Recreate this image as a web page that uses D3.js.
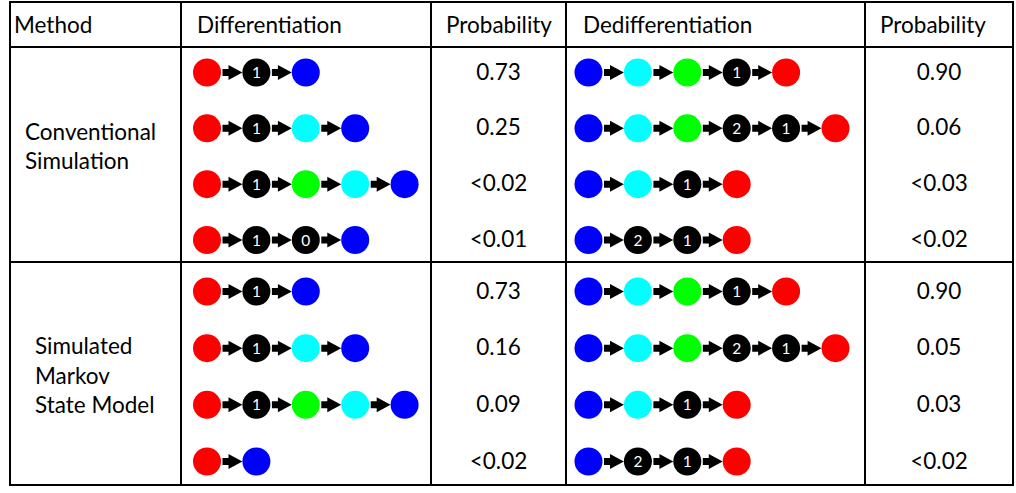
<!DOCTYPE html>
<html>
<head>
<meta charset="utf-8">
<script src="https://cdn.jsdelivr.net/npm/d3@7"></script>
<style>
  body { margin: 0; background: #fff; }
  text { font-family: Lato, "Open Sans", sans-serif; }
</style>
</head>
<body>
<div class="chart"></div>
<script>
// table content
var headers = ["Method", "Differentiation", "Probability", "Dedifferentiation", "Probability"];
var methods = [["Conventional", "Simulation"], ["Simulated", "Markov", "State Model"]];

// pathways: "r" red, "k1" black with label, "g" green, "c" cyan, "b" blue
var diffPaths = [
  [["r","k1","b"], ["r","k1","c","b"], ["r","k1","g","c","b"], ["r","k1","k0","b"]],
  [["r","k1","b"], ["r","k1","c","b"], ["r","k1","g","c","b"], ["r","b"]]
];
var diffProb = [
  ["0.73", "0.25", "<0.02", "<0.01"],
  ["0.73", "0.16", "0.09", "<0.02"]
];
var dediffPaths = [
  [["b","c","g","k1","r"], ["b","c","g","k2","k1","r"], ["b","c","k1","r"], ["b","k2","k1","r"]],
  [["b","c","g","k1","r"], ["b","c","g","k2","k1","r"], ["b","c","k1","r"], ["b","k2","k1","r"]]
];
var dediffProb = [
  ["0.90", "0.06", "<0.03", "<0.02"],
  ["0.90", "0.05", "0.03", "<0.02"]
];

var width = 1016, height = 493;
var colX = [10, 181, 431, 566, 865, 1013];
var rowLines = [2, 47, 262, 485];

var colors = { r: "#ff0000", g: "#00ff00", c: "#00ffff", b: "#0000ff", k: "#000000" };

var svg = d3.select(".chart").append("svg")
  .attr("width", width)
  .attr("height", height);

// scales
var nodeX = d3.scaleLinear().domain([0, 1]).range([0, 49.4]);
var rowY = [
  d3.scaleLinear().domain([0, 3]).range([72.5, 240]),
  d3.scaleLinear().domain([0, 3]).range([291.5, 461.5])
];
var colCenter = function(i) { return (colX[i] + colX[i + 1]) / 2; };

var r = 14;
var fs = 22.5;

function drawPaths(g, paths, sec, x0) {
  paths.forEach(function(path, ri) {
    var row = g.append("g")
      .attr("transform", "translate(" + x0 + "," + rowY[sec](ri) + ")");

    // arrows between nodes
    row.selectAll("path.arrow")
      .data(path.slice(1))
      .enter().append("path")
      .attr("class", "arrow")
      .attr("transform", function(d, i) { return "translate(" + (nodeX(i) + r + 1.5) + ",0)"; })
      .attr("d", function() {
        var L = nodeX(1) - 2 * r - 1.5;
        return "M0,-3.5 L6,-3.5 L6,-7.5 L" + L + ",0 L6,7.5 L6,3.5 L0,3.5 Z";
      })
      .attr("fill", "#000");

    row.selectAll("circle")
      .data(path)
      .enter().append("circle")
      .attr("cx", function(d, i) { return nodeX(i); })
      .attr("cy", 0)
      .attr("r", r)
      .attr("fill", function(d) { return colors[d[0]]; });

    row.selectAll("text")
      .data(path.map(function(d, i) { return { d: d, i: i }; }).filter(function(o) { return o.d.length > 1; }))
      .enter().append("text")
      .attr("x", function(o) { return nodeX(o.i); })
      .attr("y", 0)
      .attr("dy", "0.36em")
      .attr("text-anchor", "middle")
      .attr("fill", "#fff")
      .attr("font-size", 15.5)
      .text(function(o) { return o.d.slice(1); });
  });
}

function drawProbs(g, probs, sec, col) {
  g.selectAll(null)
    .data(probs)
    .enter().append("text")
    .attr("x", colCenter(col))
    .attr("y", function(d, i) { return rowY[sec](i) - 1; })
    .attr("dy", "0.36em")
    .attr("text-anchor", "middle")
    .attr("font-size", fs)
    .attr("fill", "#000")
    .text(function(d) { return d; });
}

// headers
var headerX = [14, 197, 446, 583, 880];
svg.append("g").selectAll("text")
  .data(headers)
  .enter().append("text")
  .attr("x", function(d, i) { return headerX[i]; })
  .attr("y", 25)
  .attr("dy", "0.36em")
  .attr("font-size", fs)
  .attr("fill", "#000")
  .text(function(d) { return d; });

// method labels
var methodPos = [{ x: 25, y: 131.5 }, { x: 35, y: 346 }];
methods.forEach(function(lines, s) {
  svg.append("g").selectAll("text")
    .data(lines)
    .enter().append("text")
    .attr("x", methodPos[s].x)
    .attr("y", function(d, i) { return methodPos[s].y + i * 29.5; })
    .attr("dy", "0.36em")
    .attr("font-size", fs)
    .attr("fill", "#000")
    .text(function(d) { return d; });
});

// cells
[0, 1].forEach(function(s) {
  var g = svg.append("g");
  drawPaths(g, diffPaths[s], s, 207);
  drawPaths(g, dediffPaths[s], s, 588.5);
  drawProbs(g, diffProb[s], s, 2);
  drawProbs(g, dediffProb[s], s, 4);
});

// grid lines
var grid = svg.append("g").attr("stroke", "#000").attr("stroke-width", 2);
grid.selectAll("line.h")
  .data(rowLines)
  .enter().append("line")
  .attr("x1", colX[0] - 1).attr("x2", colX[colX.length - 1] + 1)
  .attr("y1", function(d) { return d; }).attr("y2", function(d) { return d; });
grid.selectAll("line.v")
  .data(colX)
  .enter().append("line")
  .attr("y1", rowLines[0]).attr("y2", rowLines[rowLines.length - 1])
  .attr("x1", function(d) { return d; }).attr("x2", function(d) { return d; });
</script>
</body>
</html>
